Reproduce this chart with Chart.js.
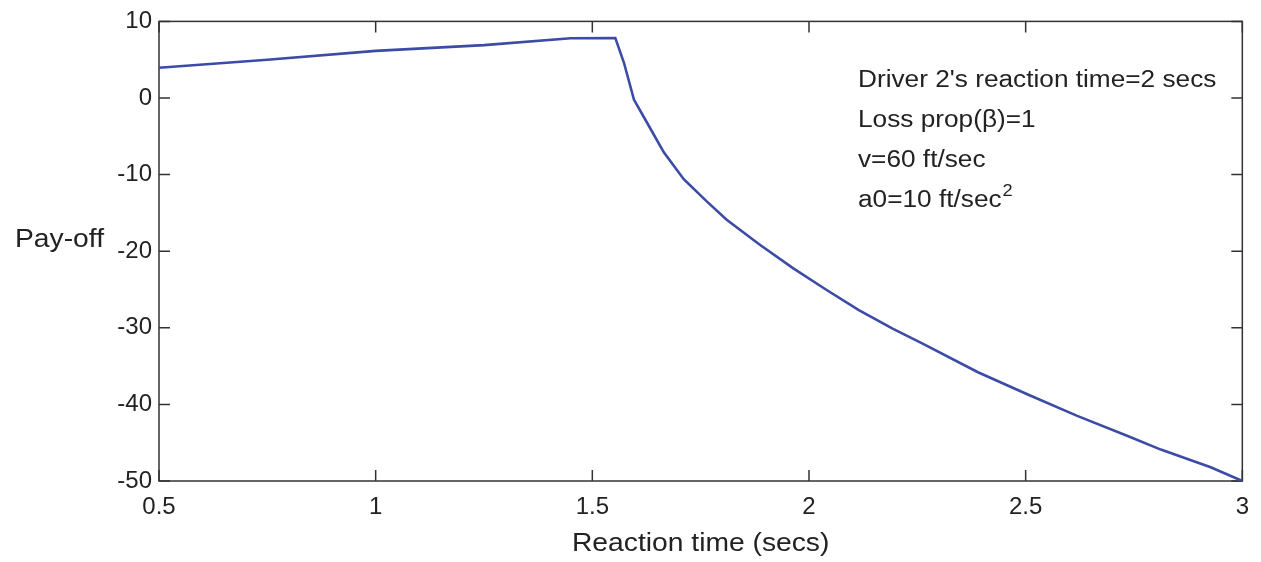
<!DOCTYPE html>
<html>
<head>
<meta charset="utf-8">
<script src="https://cdn.jsdelivr.net/npm/chart.js@4"></script>
<style>
  html, body { margin: 0; padding: 0; background: #fff; }
  #wrap { width: 1261px; height: 562px; }
</style>
</head>
<body>
<div id="wrap"><canvas id="myChart" width="1261" height="562"></canvas></div>
<script>
// values
var reactionTime = [0.5, 0.75, 1.0, 1.25, 1.45, 1.553, 1.573, 1.596, 1.626, 1.665, 1.711, 1.764, 1.81, 1.885, 1.963, 2.039, 2.115, 2.193, 2.26, 2.39, 2.505, 2.619, 2.734, 2.812, 2.927, 3.0];
var payoff = [3.95, 5.0, 6.15, 6.9, 7.8, 7.84, 4.6, -0.2, -3.2, -7.1, -10.6, -13.5, -15.9, -19.1, -22.2, -25.0, -27.7, -30.1, -32.0, -35.8, -38.7, -41.5, -44.1, -45.9, -48.2, -50];
var xTicks = [0.5, 1, 1.5, 2, 2.5, 3];
var yTicks = [-50, -40, -30, -20, -10, 0, 10];
var noteLines = ["Driver 2's reaction time=2 secs", "Loss prop(\u03b2)=1", "v=60 ft/sec", "a0=10 ft/sec"];

const fontFam = "'Liberation Sans', Arial, sans-serif";
const ink = "#222";

var points = [];
for (var i = 0; i < reactionTime.length; i++) {
  points.push({ x: reactionTime[i], y: payoff[i] });
}

// text that looks a bit stretched sideways, as in the original
function wideText(ctx, txt, x, y, sx) {
  ctx.save();
  ctx.translate(x, y);
  ctx.scale(sx, 1);
  ctx.fillText(txt, 0, 0);
  ctx.restore();
}

// box, inward tick marks and the free text
const matlabFrame = {
  id: "matlabFrame",
  beforeDatasetsDraw(chart) {
    const ctx = chart.ctx;
    const a = chart.chartArea;
    const xs = chart.scales.x, ys = chart.scales.y;
    ctx.save();
    ctx.strokeStyle = "#333";
    ctx.lineWidth = 1.5;
    ctx.strokeRect(a.left, a.top, a.right - a.left, a.bottom - a.top);
    ctx.beginPath();
    xTicks.forEach(v => {
      const px = xs.getPixelForValue(v);
      ctx.moveTo(px, a.bottom); ctx.lineTo(px, a.bottom - 11);
      ctx.moveTo(px, a.top); ctx.lineTo(px, a.top + 11);
    });
    yTicks.forEach(v => {
      const py = ys.getPixelForValue(v);
      ctx.moveTo(a.left, py); ctx.lineTo(a.left + 11, py);
      ctx.moveTo(a.right, py); ctx.lineTo(a.right - 11, py);
    });
    ctx.stroke();
    ctx.restore();
  },
  afterDraw(chart) {
    const ctx = chart.ctx;
    const a = chart.chartArea;
    ctx.save();
    ctx.fillStyle = ink;
    ctx.textBaseline = "alphabetic";
    ctx.textAlign = "left";
    ctx.font = "25px " + fontFam;
    // y label, horizontal
    wideText(ctx, "Pay-off", 15, 247, 1.13);
    // x label, centred under the box
    var xt = "Reaction time (secs)";
    var xw = ctx.measureText(xt).width * 1.13;
    wideText(ctx, xt, (a.left + a.right) / 2 - xw / 2, 551, 1.13);
    // note block
    ctx.font = "23px " + fontFam;
    var base = 87;
    noteLines.forEach((t, k) => {
      wideText(ctx, t, 858, base + k * 40, 1.14);
    });
    var last = noteLines[noteLines.length - 1];
    var w = ctx.measureText(last).width * 1.14;
    ctx.font = "16px " + fontFam;
    wideText(ctx, "2", 858 + w + 1, base + 3 * 40 - 11, 1.14);
    ctx.restore();
  }
};

new Chart("myChart", {
  type: "line",
  data: {
    datasets: [{
      data: points,
      borderColor: "#3b4ba6",
      borderWidth: 2.6,
      pointRadius: 0,
      tension: 0,
      fill: false
    }]
  },
  options: {
    responsive: false,
    animation: false,
    layout: { padding: { left: 0, right: 11, top: 18, bottom: 0 } },
    plugins: {
      legend: { display: false },
      tooltip: { enabled: false }
    },
    scales: {
      x: {
        type: "linear",
        min: 0.5,
        max: 3,
        afterBuildTicks: s => { s.ticks = xTicks.map(v => ({ value: v })); },
        afterFit: s => { s.height = 81; },
        grid: { display: false, drawTicks: false },
        border: { display: false },
        ticks: {
          color: ink,
          padding: 12,
          maxRotation: 0,
          autoSkip: false,
          font: { family: fontFam, size: 24 },
          callback: v => String(v)
        }
      },
      y: {
        min: -50,
        max: 10,
        afterBuildTicks: s => { s.ticks = yTicks.map(v => ({ value: v })); },
        afterFit: s => { s.width = 159; },
        grid: { display: false, drawTicks: false },
        border: { display: false },
        ticks: {
          color: ink,
          padding: 7,
          autoSkip: false,
          font: { family: fontFam, size: 24 },
          callback: v => String(v)
        }
      }
    }
  },
  plugins: [matlabFrame]
});
</script>
</body>
</html>
